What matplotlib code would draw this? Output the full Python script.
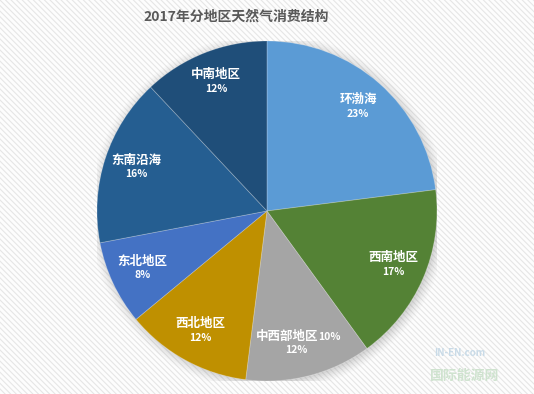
import matplotlib.pyplot as plt
import numpy as np
from matplotlib.patches import Rectangle, Circle

plt.rcParams['font.family'] = ['Noto Sans CJK SC', 'DejaVu Sans']
plt.rcParams['hatch.linewidth'] = 0.8

# data
regions = ['环渤海', '西南地区', '中西部地区', '西北地区', '东北地区', '东南沿海', '中南地区']
suffix = ['', '', '10%', '', '', '', '']   # odd extra text on one label in the source
shares = [23, 17, 12, 12, 8, 16, 12]
colors = ['#5B9BD5', '#548235', '#A5A5A5', '#BF9000', '#4472C4', '#255E91', '#1F4E79']

fig = plt.figure(figsize=(5.34, 3.94), dpi=100)

# striped light background
bg = Rectangle((0, 0), 1, 1, transform=fig.transFigure, facecolor='#fdfdfd',
               edgecolor='#e6e6e6', hatch='\\\\\\\\\\\\', linewidth=0, zorder=-10)
fig.patches.append(bg)

ax = fig.add_axes([0.1816, 0.033, 0.6367, 0.863])

# soft shadow around the pie
for r, a in zip(np.linspace(1.055, 1.0, 6), [0.03, 0.04, 0.05, 0.06, 0.07, 0.09]):
    ax.add_patch(Circle((0.01, -0.01), r, color='#7f7f7f', alpha=a, lw=0, zorder=0))

wedges, _ = ax.pie(shares, colors=colors, startangle=90, counterclock=False,
                   radius=1.0, wedgeprops=dict(edgecolor=(1, 1, 1, 0.25), linewidth=0.6))
ax.set_aspect('equal')
ax.set_xlim(-1.0, 1.0)
ax.set_ylim(-1.0, 1.0)
ax.axis('off')

for w, name, extra, pct in zip(wedges, regions, suffix, shares):
    ang = np.deg2rad((w.theta1 + w.theta2) / 2)
    d = 0.81
    x, y = d * np.cos(ang), d * np.sin(ang)
    t = ax.text(x, y + 0.01, name, ha='center', va='bottom', color='white',
                fontsize=9, fontweight='bold')
    if extra:
        t.set_ha('right')
        t.set_x(x + 0.1)
        ax.text(x + 0.1, y + 0.012, extra, ha='left', va='bottom', color='white',
                fontsize=7.5, fontweight='bold')
        ax.text(x - 0.03, y - 0.005, f'{pct}%', ha='center', va='top', color='white',
                fontsize=7.5, fontweight='bold')
    else:
        ax.text(x, y - 0.005, f'{pct}%', ha='center', va='top', color='white',
                fontsize=7.5, fontweight='bold')

fig.text(0.442, 0.958, '2017年分地区天然气消费结构', ha='center', va='center',
         fontsize=10, fontweight='bold', color='#595959')

# watermark
fig.text(0.86, 0.105, 'IN-EN.com', ha='center', va='center', fontsize=7,
         fontweight='bold', color='#c9dbe8', style='italic')
fig.text(0.87, 0.045, '国际能源网', ha='center', va='center', fontsize=10,
         fontweight='bold', color='#cfe3cf')

fig.savefig('out.png', dpi=100)
